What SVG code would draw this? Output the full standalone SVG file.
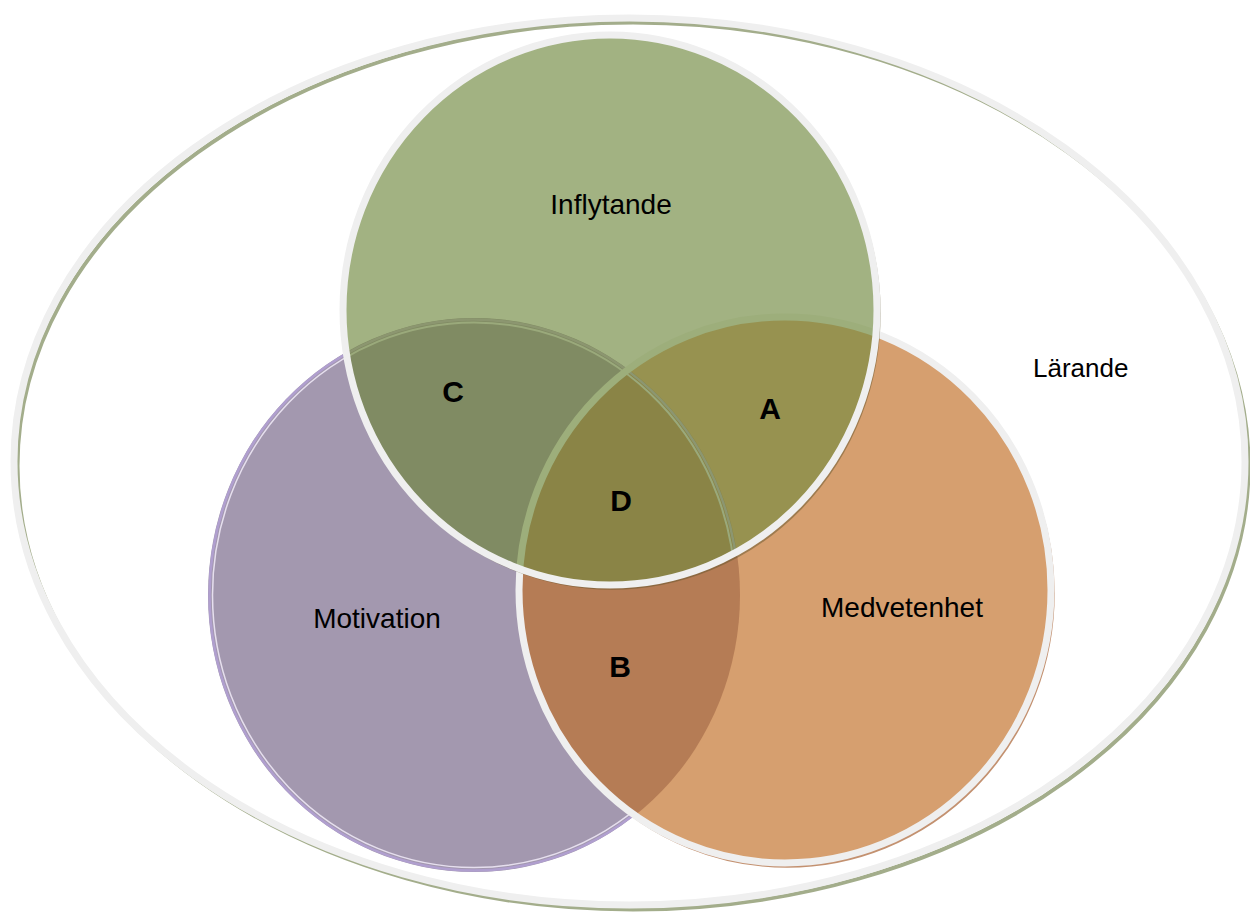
<svg xmlns="http://www.w3.org/2000/svg" width="1250" height="916" viewBox="0 0 1250 916">
<style>
.lbl{font-family:"Liberation Sans",Arial,sans-serif;font-size:28px;fill:#000;text-anchor:middle}
.ltr{font-family:"Liberation Sans",Arial,sans-serif;font-size:30px;font-weight:bold;fill:#000;text-anchor:middle}
.rim{fill:none;stroke:#efefef;stroke-width:7}
</style>
<defs>
<clipPath id="cpP"><ellipse cx="474" cy="595" rx="266" ry="277"/></clipPath>
<clipPath id="cpO"><ellipse cx="785" cy="590" rx="266" ry="273"/></clipPath>
<clipPath id="cpG"><ellipse cx="610" cy="310" rx="267" ry="275"/></clipPath>
</defs>
<rect width="1250" height="916" fill="#fff"/>
<g id="larande">
<ellipse cx="633" cy="466" rx="615.5" ry="443.5" fill="none" stroke="#a3ad8b" stroke-width="4"/>
<ellipse cx="629.5" cy="461.5" rx="615.5" ry="443.5" fill="none" stroke="#efefef" stroke-width="7"/>
<text class="lbl" x="1033" y="377" style="font-size:26px;text-anchor:start">Lärande</text>
</g>
<g id="motivation">
<ellipse cx="474" cy="595" rx="266" ry="277" fill="#a398af"/>
<ellipse cx="474" cy="595" rx="264.5" ry="275.5" fill="none" stroke="#b09fcf" stroke-width="2.5"/>
<ellipse cx="474" cy="595" rx="261.5" ry="272.5" fill="none" stroke="#e6dfee" stroke-width="1.5"/>
</g>
<g id="medvetenhet">
<ellipse cx="787" cy="593" rx="266" ry="273" fill="none" stroke="#c39170" stroke-width="3.5"/>
<ellipse cx="785" cy="590" rx="266" ry="273" fill="#d69f6f"/>
<g clip-path="url(#cpP)"><ellipse cx="785" cy="590" rx="266" ry="273" fill="#b57c55"/></g>
<ellipse cx="785" cy="590" rx="266" ry="273" class="rim"/>
</g>
<g id="inflytande">
<ellipse cx="612" cy="313" rx="267" ry="275" fill="none" stroke="#5a5028" stroke-opacity="0.45" stroke-width="3.5"/>
<ellipse cx="610" cy="310" rx="267" ry="275" fill="#a2b282"/>
<g clip-path="url(#cpG)">
<ellipse cx="474" cy="595" rx="266" ry="277" fill="#808b63"/>
<ellipse cx="785" cy="590" rx="266" ry="273" fill="#979250"/>
<g clip-path="url(#cpP)"><ellipse cx="785" cy="590" rx="266" ry="273" fill="#8a8446"/></g>
<ellipse cx="474" cy="595" rx="264.5" ry="275.5" fill="none" stroke="#8c9670" stroke-width="2.5"/>
<ellipse cx="474" cy="595" rx="261.5" ry="272.5" fill="none" stroke="#9aa97b" stroke-width="2"/>
<ellipse cx="785" cy="590" rx="266" ry="273" fill="none" stroke="#9dae7b" stroke-width="7"/>
</g>
<ellipse cx="610" cy="310" rx="267" ry="275" class="rim"/>
<text class="lbl" x="611" y="214">Inflytande</text>
</g>
<g id="labels">
<text class="lbl" x="377" y="628">Motivation</text>
<text class="lbl" x="902" y="617">Medvetenhet</text>
<text class="ltr" x="453" y="402">C</text>
<text class="ltr" x="770" y="419">A</text>
<text class="ltr" x="621" y="511">D</text>
<text class="ltr" x="620" y="677">B</text>
</g>
<g id="connectors"/>
</svg>
